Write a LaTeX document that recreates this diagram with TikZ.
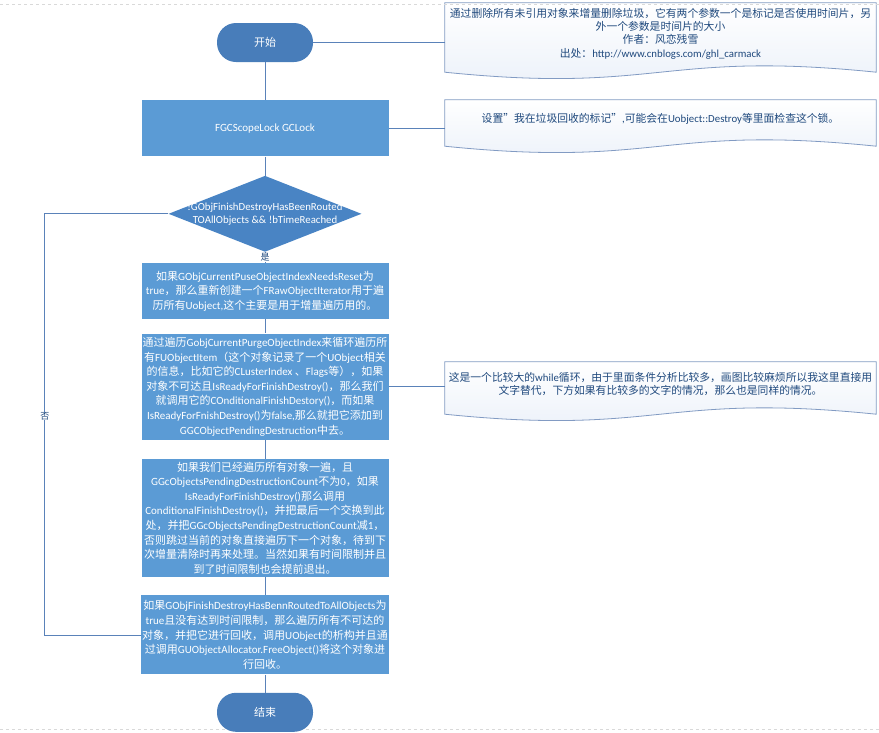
\documentclass[tikz,border=0pt]{standalone}
\usepackage{fontspec}
\setmainfont{Carlito}
\newfontfamily\cjkfont{Noto Sans CJK SC}
\usepackage{tikz}
\usetikzlibrary{shapes.geometric,positioning,backgrounds,calc}
% switch to the CJK family for Chinese characters, back to Carlito otherwise
\newXeTeXintercharclass\cjkcls
\newcount\cjkcnt
\newcommand{\cjkrange}[2]{%
  \cjkcnt=#1
  \loop
    \XeTeXcharclass\cjkcnt=\cjkcls
    \advance\cjkcnt by 1
  \ifnum\cjkcnt<#2 \repeat}
\cjkrange{"3000}{"3040}
\cjkrange{"4E00}{"A000}
\cjkrange{"FF00}{"FFF0}
\XeTeXcharclass"201C=\cjkcls
\XeTeXcharclass"201D=\cjkcls
\XeTeXinterchartoks 0 \cjkcls = {\cjkfont}
\XeTeXinterchartoks 4095 \cjkcls = {\cjkfont}
\XeTeXinterchartoks \cjkcls 0 = {\normalfont}
\XeTeXinterchartoks \cjkcls 4095 = {\normalfont}
\XeTeXinterchartoks 4095 0 = {\normalfont}
\XeTeXinterchartokenstate=1
\definecolor{gcTerm}{RGB}{72,125,186}
\definecolor{gcBox}{RGB}{91,155,213}
\definecolor{gcDia}{RGB}{73,132,196}
\definecolor{gcLine}{RGB}{90,130,185}
\definecolor{gcNoteEdge}{RGB}{130,155,195}
\definecolor{gcNoteFill}{RGB}{234,240,249}
\definecolor{gcNoteText}{RGB}{31,73,125}
\tikzset{
  termbox/.style={
    rectangle, rounded corners=19pt,
    fill=gcTerm, text=white,
    minimum width=96pt, minimum height=39pt,
    font=\fontsize{11}{13}\selectfont
  },
  stepbox/.style={
    rectangle, fill=gcBox, text=white,
    minimum width=247pt, minimum height=#1,
    inner sep=1pt, align=center,
    font=\fontsize{11}{14.6}\selectfont
  },
  decbox/.style={
    diamond, fill=gcDia,
    minimum width=193pt, minimum height=76pt,
    inner sep=0pt
  },
  declabel/.style={
    align=center, text=white,
    font=\fontsize{10.8}{13}\selectfont
  },
  notebox/.style={
    rectangle, minimum width=431pt, minimum height=#1,
    inner sep=1pt, align=center, text=gcNoteText,
    font=\fontsize{10.8}{13.3}\selectfont
  },
  notedraw/.style={draw=gcNoteEdge, line width=0.8pt, top color=white, bottom color=gcNoteFill},
  link/.style={draw=gcLine, line width=0.8pt},
  lbl/.style={fill=white, inner sep=0.5pt, text=gcNoteText, font=\fontsize{9}{10}\selectfont},
  pageline/.style={draw=gray!30, dashed, line width=0.5pt},
}
% document shape with a wavy bottom, drawn round a note node
\newcommand{\docshape}[1]{%
  \draw[notedraw] (#1.north west) -- (#1.north east) -- ([yshift=-8pt]#1.south east)
    .. controls ([xshift=-215.5pt,yshift=14pt]#1.south east) and ([xshift=215.5pt,yshift=-30pt]#1.south west)
    .. ([yshift=-8pt]#1.south west) -- cycle;}

\begin{document}
\begin{tikzpicture}[x=1pt, y=1pt]
  \useasboundingbox (0,0) rectangle (879,-732);
  \draw[pageline] (0,-4) -- (879,-4);
  \draw[pageline] (0,-729) -- (879,-729);

  % Main column
  \node[termbox] (start) at (265,-42.5) {开始};
  \node[stepbox=56pt, below=38pt of start] (lock) {FGCScopeLock GCLock};
  \node[decbox, below=19pt of lock,
        label={[declabel]center:!GObjFinishDestroyHasBeenRouted\\TOAllObjects \&\& !bTimeReached}] (cond) {};
  \node[stepbox=56pt, below=11pt of cond] (reset)
    {如果GObjCurrentPuseObjectIndexNeedsReset为\\
     true，那么重新创建一个FRawObjectIterator用于遍\\
     历所有Uobject,这个主要是用于增量遍历用的。};
  \node[stepbox=106pt, below=14pt of reset] (scan)
    {通过遍历GobjCurrentPurgeObjectIndex来循环遍历所\\
     有FUObjectItem（这个对象记录了一个UObject相关\\
     的信息，比如它的CLusterIndex 、Flags等），如果\\
     对象不可达且IsReadyForFinishDestroy()，那么我们\\
     就调用它的COnditionalFinishDestory()，而如果\\
     IsReadyForFnishDestroy()为false,那么就把它添加到\\
     GGCObjectPendingDestruction中去。};
  \node[stepbox=118pt, below=19pt of scan] (pending)
    {如果我们已经遍历所有对象一遍，且\\
     GGcObjectsPendingDestructionCount不为0，如果\\
     IsReadyForFinishDestroy()那么调用\\
     ConditionalFinishDestroy()，并把最后一个交换到此\\
     处，并把GGcObjectsPendingDestructionCount减1，\\
     否则跳过当前的对象直接遍历下一个对象，待到下\\
     次增量清除时再来处理。当然如果有时间限制并且\\
     到了时间限制也会提前退出。};
  \node[stepbox=79pt, below=18pt of pending] (purge)
    {如果GObjFinishDestroyHasBennRoutedToAllObjects为\\
     true且没有达到时间限制，那么遍历所有不可达的\\
     对象，并把它进行回收，调用UObject的析构并且通\\
     过调用GUObjectAllocator.FreeObject()将这个对象进\\
     行回收。};
  \node[termbox, below=18pt of purge] (end) {结束};

  % Notes
  \node[notebox=61pt] (note1) at (660.5,-33.5)
    {通过删除所有未引用对象来增量删除垃圾，它有两个参数一个是标记是否使用时间片，另\\
     外一个参数是时间片的大小\\
     作者：风恋残雪\\
     出处：http://www.cnblogs.com/ghl\_carmack};
  \node[notebox=38pt] (note2) at (660.5,-119)
    {设置”我在垃圾回收的标记”,可能会在Uobject::Destroy等里面检查这个锁。};
  \node[notebox=44pt] (note3) at (660.5,-384)
    {这是一个比较大的while循环，由于里面条件分析比较多，画图比较麻烦所以我这里直接用\\
     文字替代，下方如果有比较多的文字的情况，那么也是同样的情况。};
  \begin{scope}[on background layer]
    \docshape{note1}
    \docshape{note2}
    \docshape{note3}
  \end{scope}

  % Connectors
  \draw[link] (start) -- (lock);
  \draw[link] (lock) -- (cond);
  \draw[link] (cond) -- node[lbl] {是} (reset);
  \draw[link] (reset) -- (scan);
  \draw[link] (scan) -- (pending);
  \draw[link] (pending) -- (purge);
  \draw[link] (purge) -- (end);
  \draw[link] (start.east) -- (start.east -| note1.west);
  \draw[link] (lock.east) -- (lock.east -| note2.west);
  \draw[link] (scan.east) -- (scan.east -| note3.west);
  \coordinate[left=123.5pt of cond.west] (back);
  \draw[link] (purge.west) -| node[pos=0.76, lbl] {否} (back) -- (cond.west);
\end{tikzpicture}
\end{document}
